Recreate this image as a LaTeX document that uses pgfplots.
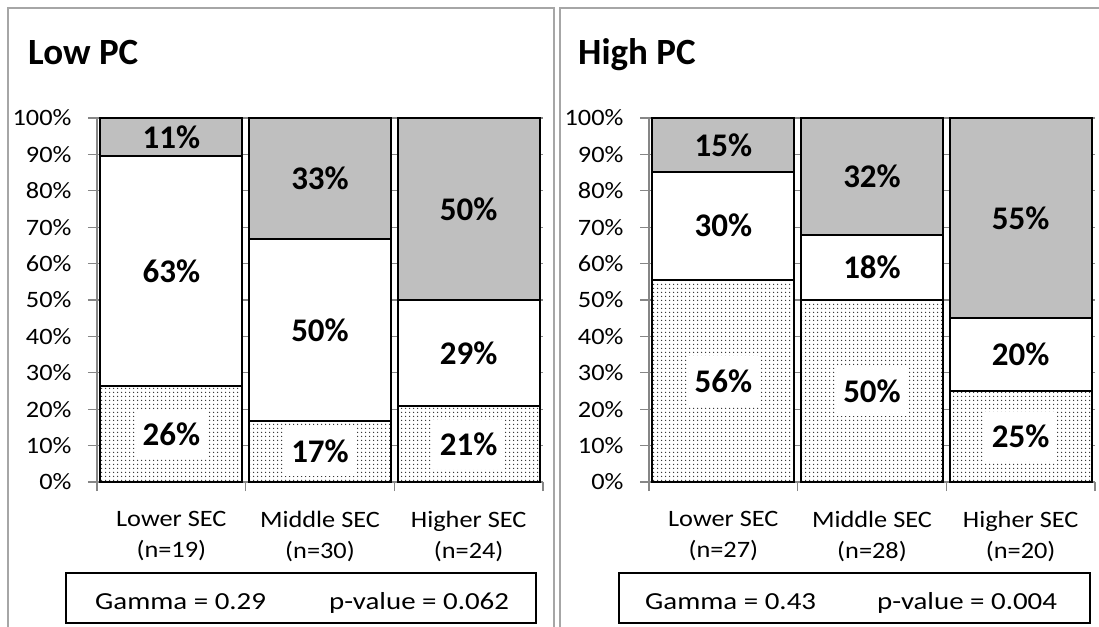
\documentclass[border=0pt]{standalone}
\usepackage{pgfplots}
\pgfplotsset{compat=1.18}
\usepackage{fontspec}
\setmainfont{Carlito}
\newfontfamily\tickfont{Carlito}[FakeStretch=1.12]
\newfontfamily\gamfont{Carlito}[FakeStretch=1.18]
\usetikzlibrary{patterns.meta}
\definecolor{axgray}{HTML}{868686}
\definecolor{framegray}{HTML}{A6A6A6}
\definecolor{topgray}{HTML}{BFBFBF}
\tikzdeclarepattern{
  name=mydots,
  type=uncolored,
  bottom left={(0pt,0pt)},
  top right={(4pt,4pt)},
  tile size={(4pt,4pt)},
  code={\fill (2pt,2pt) circle (0.85pt);}
}
\tikzset{
  segA/.style={draw=black, line width=1.8pt, fill=white, postaction={pattern=mydots, pattern color=black!85}},
  segB/.style={draw=black, line width=1.8pt, fill=white},
  segC/.style={draw=black, line width=1.8pt, fill=topgray},
  lab/.style={font=\fontsize{33}{38}\bfseries\selectfont, text=black, inner sep=0pt},
  labw/.style={font=\fontsize{33}{38}\bfseries\selectfont, text=black, fill=white, inner xsep=8pt, inner ysep=13pt},
}
\pgfplotsset{
  geom/.style={
    scale only axis, width=446pt, height=364pt, anchor=south west,
    xmin=-0.5, xmax=2.5, ymin=0, ymax=100,
  },
  panel/.style={
    geom,
    ybar stacked, bar width=142pt,
    axis x line*=bottom, axis y line*=left,
    axis line style={draw=axgray, line width=1.2pt},
    xtick={-0.5,0.5,1.5,2.5}, x tick label as interval,
    ytick={0,10,...,100},
    yticklabel={\pgfmathprintnumber{\tick}\%},
    /pgf/number format/assume math mode=true,
    tick align=outside, major tick length=9pt,
    tick style={draw=axgray, line width=1.2pt},
    ymajorgrids, grid style={draw=axgray, line width=1.2pt},
    ticklabel style={font=\tickfont\fontsize{23.5}{31}\selectfont},
    xticklabel style={align=center, yshift=-17pt},
    yticklabel style={xshift=-13pt},
    clip=false,
  },
  over/.style={geom, hide axis, clip=false},
}
\begin{document}
\begin{tikzpicture}
\useasboundingbox (0pt,0pt) rectangle (1099pt,626pt);
% panel frames
\draw[framegray, line width=1.5pt] (8pt,-5pt) -- (8pt,618pt) -- (554pt,618pt) -- (554pt,-5pt);
\draw[framegray, line width=1.5pt] (560pt,-5pt) -- (560pt,618pt) -- (1105pt,618pt);
% titles
\node[anchor=base west, inner sep=0pt, font=\fontsize{37}{42}\bfseries\selectfont] at (28pt,561pt) {Low PC};
\node[anchor=base west, inner sep=0pt, font=\fontsize{37}{42}\bfseries\selectfont] at (578pt,561pt) {High PC};

\begin{axis}[panel, at={(97pt,144pt)},
  xticklabels={{Lower SEC\\(n=19)},{Middle SEC\\(n=30)},{Higher SEC\\(n=24)}}]
\addplot[segA] coordinates {(0,26.3) (1,16.7) (2,20.8)};
\addplot[segB] coordinates {(0,63.2) (1,50.0) (2,29.2)};
\addplot[segC] coordinates {(0,10.5) (1,33.3) (2,50.0)};
\end{axis}
\begin{axis}[over, at={(97pt,144pt)}]
\node[labw] at (axis cs:0,13.15) {26\%};
\node[labw] at (axis cs:1,8.35) {17\%};
\node[labw] at (axis cs:2,10.4) {21\%};
\node[lab] at (axis cs:0,57.9) {63\%};
\node[lab] at (axis cs:1,41.7) {50\%};
\node[lab] at (axis cs:2,35.4) {29\%};
\node[lab] at (axis cs:0,94.75) {11\%};
\node[lab] at (axis cs:1,83.35) {33\%};
\node[lab] at (axis cs:2,75.0) {50\%};
\end{axis}

\begin{axis}[panel, at={(649pt,144pt)},
  xticklabels={{Lower SEC\\(n=27)},{Middle SEC\\(n=28)},{Higher SEC\\(n=20)}}]
\addplot[segA] coordinates {(0,55.6) (1,50.0) (2,25.0)};
\addplot[segB] coordinates {(0,29.6) (1,17.9) (2,20.0)};
\addplot[segC] coordinates {(0,14.8) (1,32.1) (2,55.0)};
\end{axis}
\begin{axis}[over, at={(649pt,144pt)}]
\node[labw] at (axis cs:0,27.8) {56\%};
\node[labw] at (axis cs:1,25.0) {50\%};
\node[labw] at (axis cs:2,12.5) {25\%};
\node[lab] at (axis cs:0,70.4) {30\%};
\node[lab] at (axis cs:1,58.95) {18\%};
\node[lab] at (axis cs:2,35.0) {20\%};
\node[lab] at (axis cs:0,92.6) {15\%};
\node[lab] at (axis cs:1,83.95) {32\%};
\node[lab] at (axis cs:2,72.5) {55\%};
\end{axis}

% statistics boxes
\draw[black, line width=1.5pt] (66pt,3pt) rectangle (536pt,53pt);
\node[anchor=base west, inner sep=0pt, font=\gamfont\fontsize{24.5}{28}\selectfont] at (95pt,17pt) {Gamma = 0.29};
\node[anchor=base west, inner sep=0pt, font=\gamfont\fontsize{24.5}{28}\selectfont] at (329pt,17pt) {p-value = 0.062};
\draw[black, line width=1.5pt] (619pt,3pt) rectangle (1090pt,53pt);
\node[anchor=base west, inner sep=0pt, font=\gamfont\fontsize{24.5}{28}\selectfont] at (645pt,17pt) {Gamma = 0.43};
\node[anchor=base west, inner sep=0pt, font=\gamfont\fontsize{24.5}{28}\selectfont] at (877pt,17pt) {p-value = 0.004};
\end{tikzpicture}
\end{document}
